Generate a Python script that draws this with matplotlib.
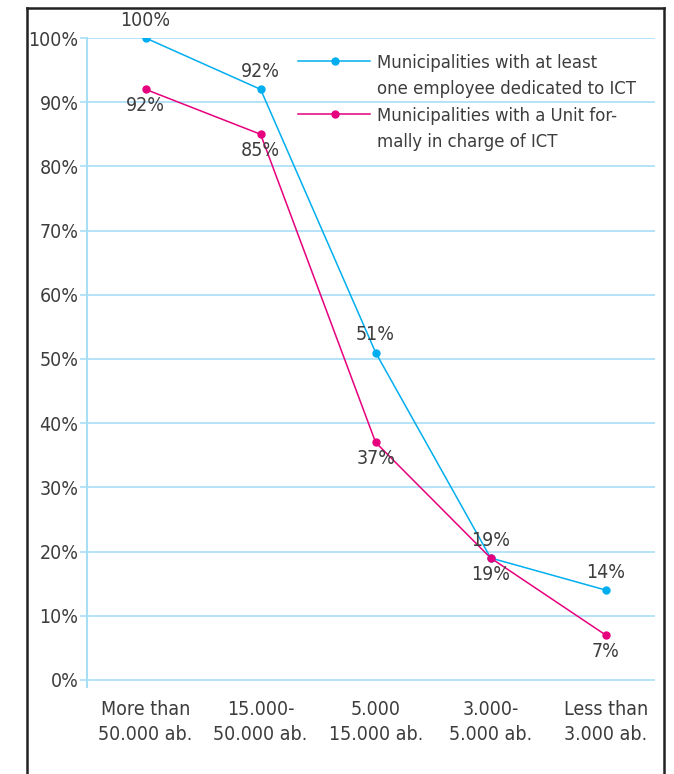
import matplotlib.pyplot as plt
from matplotlib.lines import Line2D
import numpy as np

plt.rcParams['font.family'] = ['DejaVu Sans']
plt.rcParams['font.stretch'] = 'condensed'

categories = ['More than\n50.000 ab.', '15.000-\n50.000 ab.', '5.000\n15.000 ab.',
              '3.000-\n5.000 ab.', 'Less than\n3.000 ab.']
employee_ict = [100, 92, 51, 19, 14]
unit_ict = [92, 85, 37, 19, 7]
labels = ['Municipalities with at least\none employee dedicated to ICT',
          'Municipalities with a Unit for-\nmally in charge of ICT']

blue = '#00AEEF'
pink = '#E6007E'
grid_c = '#A8DEF6'
txt = '#3d3d3d'
fs = 14

fig = plt.figure(figsize=(6.74, 7.74), dpi=100)
ax = fig.add_axes([0.129, 0.1124, 0.843, 0.8385])

x = np.arange(len(categories))
ax.plot(x, employee_ict, color=blue, lw=1.1, marker='o', markersize=5)
ax.plot(x, unit_ict, color=pink, lw=1.1, marker='o', markersize=5)

for xi, v in zip(x, employee_ict):
    ax.annotate(f'{v}%', (xi, v), xytext=(0, 6), textcoords='offset points',
                ha='center', va='bottom', fontsize=fs, color=txt)
for xi, v in zip(x, unit_ict):
    ax.annotate(f'{v}%', (xi, v), xytext=(0, -5), textcoords='offset points',
                ha='center', va='top', fontsize=fs, color=txt)

ax.set_xlim(-0.51, 4.43)
ax.set_ylim(-1.1, 100)
ax.set_yticks(np.arange(0, 101, 10))
ax.set_yticklabels([f'{t}%' for t in range(0, 101, 10)])
ax.set_xticks(x)
ax.set_xticklabels(categories, linespacing=1.4)
ax.yaxis.grid(True, color=grid_c, lw=1.2)
ax.set_axisbelow(True)
for s in ['top', 'right', 'bottom']:
    ax.spines[s].set_visible(False)
ax.spines['left'].set_color(grid_c)
ax.spines['left'].set_linewidth(1.5)
ax.tick_params(axis='y', colors=grid_c, length=5, width=1.2, labelcolor=txt, labelsize=fs, pad=1)
ax.tick_params(axis='x', length=0, labelcolor=txt, labelsize=fs, pad=9)

# legend: handle sits on the first line of each label
for y0, c, lab in [(0.964, blue, labels[0]), (0.8825, pink, labels[1])]:
    ax.plot([0.3715, 0.498], [y0, y0], color=c, lw=1.1, transform=ax.transAxes, clip_on=False)
    ax.plot([0.4366], [y0], 'o', color=c, markersize=5, transform=ax.transAxes, clip_on=False)
    for i, line in enumerate(lab.split('\n')):
        ax.text(0.5106, y0 - i * 0.039, line, transform=ax.transAxes, ha='left',
                va='center_baseline', fontsize=13.2, color=txt)

# outer box (open at the bottom)
for xs, ys in [([0.040, 0.040], [0, 0.990]), ([0.040, 0.985], [0.990, 0.990]),
               ([0.985, 0.985], [0.990, 0])]:
    fig.add_artist(Line2D(xs, ys, transform=fig.transFigure, color='#222222', lw=1.8))

plt.savefig('out.png', dpi=100)
